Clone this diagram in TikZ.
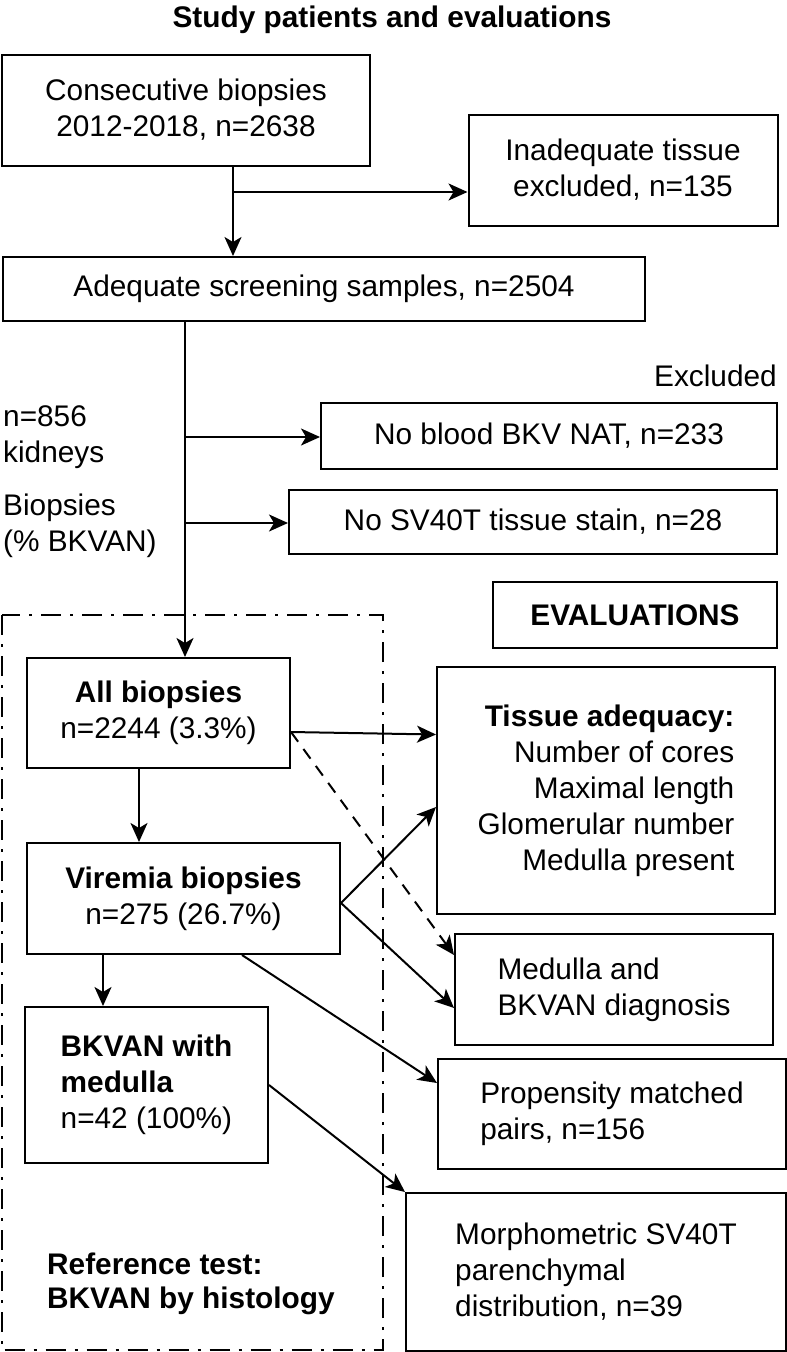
\documentclass[tikz,border=0pt]{standalone}
\usepackage{fontspec}
\setmainfont{Liberation Sans}
\usetikzlibrary{arrows.meta}

\begin{document}
\begin{tikzpicture}[x=1pt, y=-1pt,
  every node/.style={font=\fontsize{29.8}{36}\selectfont, inner sep=0pt},
  box/.style={draw, line width=2pt, rectangle},
  link/.style={line width=2pt, ->},
  refbox/.style={line width=2pt, dash pattern=on 20pt off 9pt on 3pt off 9pt},
  >={Stealth[length=19pt, width=17pt, inset=5pt]}]
\useasboundingbox (0,0) rectangle (787,1352);

\node [font=\fontsize{29.8}{36}\selectfont\bfseries, anchor=base] (title) at (392,27) {Study patients and evaluations};

% screening
\node [box, minimum width=368pt, minimum height=111pt, align=center] (consec) at (186,110) {Consecutive biopsies\\2012-2018, n=2638};
\node [box, minimum width=309pt, minimum height=111pt, align=center] (inadeq) at (623,170) {Inadequate tissue\\excluded, n=135};
\node [box, minimum width=642pt, minimum height=64pt] (adequate) at (324,289) {Adequate screening samples, n=2504};

\node [anchor=base west] (excl) at (654,386) {Excluded};
\node [box, minimum width=456pt, minimum height=66pt] (noblood) at (549,436) {No blood BKV NAT, n=233};
\node [box, minimum width=488pt, minimum height=64pt] (nosv) at (533,522) {No SV40T tissue stain, n=28};

\node [anchor=west, align=left] (kidneys) at (3,437) {n=856\\kidneys};
\node [anchor=west, align=left] (pct) at (3,526) {Biopsies\\(\% BKVAN)};

% reference test
\draw [refbox] (1.5,615) rectangle (382.5,1350);
\node [box, minimum width=263pt, minimum height=110pt, align=center] (allbx) at (158.5,713) {\textbf{All biopsies}\\n=2244 (3.3\%)};
\node [box, minimum width=313pt, minimum height=111pt, align=center] (viremia) at (183.5,898.5) {\textbf{Viremia biopsies}\\n=275 (26.7\%)};
\node [box, minimum width=243pt, minimum height=156pt, align=left] (bkmed) at (146.5,1085) {\textbf{BKVAN with}\\\textbf{medulla}\\n=42 (100\%)};
\node [anchor=west, align=left, font=\fontsize{29.8}{34}\selectfont\bfseries] (reftest) at (47,1284) {Reference test:\\BKVAN by histology};

% evaluations
\node [box, minimum width=284pt, minimum height=66pt, font=\fontsize{29.8}{36}\selectfont\bfseries] (evals) at (635,615) {EVALUATIONS};
\node [box, minimum width=338pt, minimum height=247pt, align=right] (tissue) at (606,790.5) {\textbf{Tissue adequacy:}\\Number of cores\\Maximal length\\Glomerular number\\Medulla present};
\node [box, minimum width=318pt, minimum height=111pt, align=left] (medulla) at (614,989.5) {Medulla and\\BKVAN diagnosis};
\node [box, minimum width=348pt, minimum height=110pt, align=left] (propens) at (612,1114) {Propensity matched\\pairs, n=156};
\node [box, minimum width=380pt, minimum height=158pt, align=left] (morpho) at (596,1272) {Morphometric SV40T\\parenchymal\\distribution, n=39};

% connectors
\coordinate (split1) at (233,192);
\draw [link] (split1 |- consec.south) -- (split1 |- adequate.north);
\draw [link] (split1) -- (split1 -| inadeq.west);

\coordinate (trunk1) at (185,437);
\coordinate (trunk2) at (185,523);
\draw [link] (trunk1 |- adequate.south) -- (trunk1 |- allbx.north);
\draw [link] (trunk1) -- (trunk1 -| noblood.west);
\draw [link] (trunk2) -- (trunk2 -| nosv.west);

\draw [link] ([yshift=-19pt]allbx.east) -- ([yshift=56pt]tissue.west);
\draw [link, dash pattern=on 12pt off 9pt] ([yshift=-19pt]allbx.east) -- ([yshift=34.5pt]medulla.west);
\draw [link] ([xshift=-19.5pt]allbx.south) -- ([xshift=-19.5pt]allbx.south |- viremia.north);

\draw [link] ([yshift=-4.5pt]viremia.east) -- ([yshift=-16.5pt]tissue.west);
\draw [link] ([yshift=-4.5pt]viremia.east) -- ([yshift=-18.5pt]medulla.west);
\draw [link] ([xshift=58.5pt]viremia.south) -- ([yshift=31pt]propens.west);
\draw [link] ([xshift=-80.5pt]viremia.south) -- ([xshift=-80.5pt]viremia.south |- bkmed.north);

\draw [link] (bkmed.east) -- (morpho.north west);
\end{tikzpicture}
\end{document}
